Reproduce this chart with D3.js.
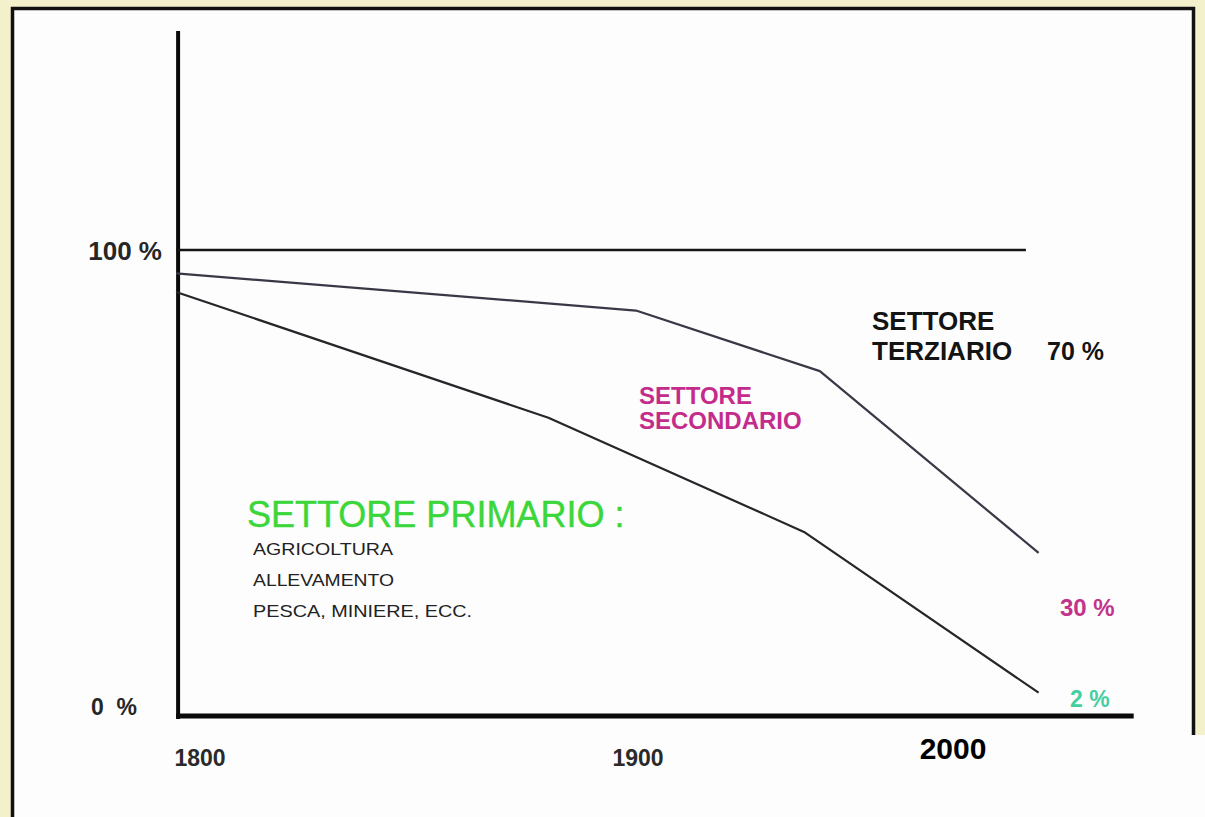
<!DOCTYPE html>
<html>
<head>
<meta charset="utf-8">
<script src="https://cdn.jsdelivr.net/npm/d3@7"></script>
<style>
  html, body { margin: 0; padding: 0; background: #f3f1cb; }
  svg { display: block; }
  text { font-family: "Liberation Sans", Arial, Helvetica, sans-serif; }
</style>
</head>
<body>
<svg id="chart" width="1205" height="817"></svg>
<script>
// Boundary between secondary and tertiary sector (primary + secondary share, %)
const boundaryYears = [1795, 1900, 1958, 2027];
const boundaryPct   = [95, 87, 74, 35];

// Primary sector share (%)
const primaryYears = [1795, 1880, 1953, 2027];
const primaryPct   = [91, 64, 39.5, 5];

// Upper limit (100 %)
const totalYears = [1795, 2023];
const totalPct   = [100, 100];

// Axis labels
const xTickYears  = [1800, 1900, 2000];
const xTickLabels = ["1800", "1900", "2000"];
const yTickValues = [100, 0];
const yTickLabels = ["100 %", "0  %"];

// Sector labels
const tertiaryLines  = ["SETTORE", "TERZIARIO"];
const tertiaryValue  = "70 %";
const secondaryLines = ["SETTORE", "SECONDARIO"];
const secondaryValue = "30 %";
const primaryTitle   = "SETTORE PRIMARIO :";
const primaryItems   = ["AGRICOLTURA", "ALLEVAMENTO", "PESCA, MINIERE, ECC."];
const primaryValue   = "2 %";

const svg = d3.select("#chart");

// Frame
svg.append("rect").attr("x", 0).attr("y", 0).attr("width", 1205).attr("height", 817).attr("fill", "#f3f1cb");
svg.append("rect").attr("x", 12).attr("y", 7).attr("width", 1182).attr("height", 810).attr("fill", "#fdfdfd");
svg.append("rect").attr("x", 1180).attr("y", 735).attr("width", 25).attr("height", 82).attr("fill", "#fdfdfd");
svg.append("path")
  .attr("d", "M12.5,817 V8.5 H1193.5 V735")
  .attr("fill", "none").attr("stroke", "#111").attr("stroke-width", 3.5);

// Scales (time axis is piecewise: 19th century wider than 20th)
const x = d3.scaleLinear().domain([1800, 1900, 2000]).range([198, 636, 953]);
const y = d3.scaleLinear().domain([0, 100]).range([716, 250]);

const line = d3.line().x(d => x(d[0])).y(d => y(d[1]));

// Axes
svg.append("line")
  .attr("x1", x(1795) + 2).attr("x2", x(1795) + 2)
  .attr("y1", y(147)).attr("y2", y(0) + 3)
  .attr("stroke", "#0a0a0a").attr("stroke-width", 4);
svg.append("line")
  .attr("x1", x(1795)).attr("x2", x(2057))
  .attr("y1", y(0)).attr("y2", y(0))
  .attr("stroke", "#0a0a0a").attr("stroke-width", 5);

// 100 % line
svg.append("path")
  .datum(d3.zip(totalYears, totalPct))
  .attr("d", line)
  .attr("fill", "none").attr("stroke", "#151515").attr("stroke-width", 2.5);

// Sector boundaries
svg.append("path")
  .datum(d3.zip(boundaryYears, boundaryPct))
  .attr("d", line)
  .attr("fill", "none").attr("stroke", "#383846").attr("stroke-width", 2.2)
  .attr("stroke-linejoin", "round");
svg.append("path")
  .datum(d3.zip(primaryYears, primaryPct))
  .attr("d", line)
  .attr("fill", "none").attr("stroke", "#26262a").attr("stroke-width", 2.2)
  .attr("stroke-linejoin", "round");

// Y labels
svg.selectAll("text.ytick")
  .data(d3.zip(yTickValues, yTickLabels))
  .join("text")
  .attr("class", "ytick")
  .attr("x", (d, i) => i === 0 ? 162 : 137)
  .attr("y", (d, i) => y(d[0]) + (i === 0 ? 10 : -1))
  .attr("text-anchor", "end")
  .attr("font-weight", "bold")
  .attr("font-size", (d, i) => i === 0 ? 26 : 23)
  .attr("fill", "#262626")
  .style("white-space", "pre")
  .text(d => d[1]);

// X labels
svg.selectAll("text.xtick")
  .data(d3.zip(xTickYears, xTickLabels))
  .join("text")
  .attr("class", "xtick")
  .attr("x", d => x(d[0]) + (d[0] === 2000 ? 0 : 2))
  .attr("y", d => d[0] === 2000 ? 759 : 766)
  .attr("text-anchor", "middle")
  .attr("font-weight", "bold")
  .attr("font-size", d => d[0] === 2000 ? 30 : 23)
  .attr("fill", d => d[0] === 2000 ? "#000" : "#2a2a2a")
  .text(d => d[1]);

// Tertiary sector label
svg.selectAll("text.tert")
  .data(tertiaryLines)
  .join("text")
  .attr("class", "tert")
  .attr("x", 872).attr("y", (d, i) => 330 + i * 30)
  .attr("font-weight", "bold").attr("font-size", 26).attr("fill", "#141414")
  .text(d => d);
svg.append("text")
  .attr("x", 1047).attr("y", 360)
  .attr("font-weight", "bold").attr("font-size", 25).attr("fill", "#141414")
  .text(tertiaryValue);

// Secondary sector label
svg.selectAll("text.sec")
  .data(secondaryLines)
  .join("text")
  .attr("class", "sec")
  .attr("x", 639).attr("y", (d, i) => 404 + i * 25)
  .attr("font-weight", "bold").attr("font-size", 24).attr("fill", "#c42c8c")
  .text(d => d);
svg.append("text")
  .attr("x", 1060).attr("y", 616)
  .attr("font-weight", "bold").attr("font-size", 24).attr("fill", "#c2338c")
  .text(secondaryValue);

// Primary sector label
svg.append("text")
  .attr("x", 247).attr("y", 527)
  .attr("font-size", 36).attr("fill", "#3ad63a")
  .attr("stroke", "#3ad63a").attr("stroke-width", 0.4)
  .text(primaryTitle);
const itemWidths = [140, 141, 219];
svg.selectAll("text.prim")
  .data(primaryItems)
  .join("text")
  .attr("class", "prim")
  .attr("x", 253).attr("y", (d, i) => 555 + i * 31)
  .attr("font-size", 17).attr("fill", "#222")
  .attr("textLength", (d, i) => itemWidths[i])
  .attr("lengthAdjust", "spacingAndGlyphs")
  .text(d => d);
svg.append("text")
  .attr("x", 1070).attr("y", 707)
  .attr("font-weight", "bold").attr("font-size", 23).attr("fill", "#45cfa0")
  .style("white-space", "pre")
  .text(primaryValue);
</script>
</body>
</html>
